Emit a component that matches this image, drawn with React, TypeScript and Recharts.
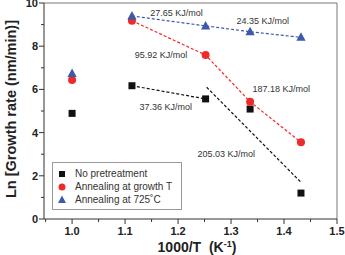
import React from 'react';
import { ScatterChart, Scatter, XAxis, YAxis, ReferenceLine } from 'recharts';

const noPretreatment = [
  { x: 1.0, y: 4.89 }, { x: 1.113, y: 6.17 }, { x: 1.252, y: 5.56 }, { x: 1.336, y: 5.09 }, { x: 1.432, y: 1.2 },
];
const annealGrowth = [
  { x: 1.0, y: 6.44 }, { x: 1.113, y: 9.18 }, { x: 1.252, y: 7.59 }, { x: 1.336, y: 5.43 }, { x: 1.432, y: 3.55 },
];
const anneal725 = [
  { x: 1.0, y: 6.74 }, { x: 1.113, y: 9.4 }, { x: 1.252, y: 8.94 }, { x: 1.336, y: 8.67 }, { x: 1.432, y: 8.41 },
];
const fitBlack1 = [{ x: 1.113, y: 6.17 }, { x: 1.252, y: 5.56 }];
const fitBlack2 = [{ x: 1.254, y: 6.1 }, { x: 1.432, y: 1.7 }];
const fitRed = [{ x: 1.113, y: 9.18 }, { x: 1.252, y: 7.59 }, { x: 1.336, y: 5.43 }, { x: 1.432, y: 3.55 }];
const fitBlue = [{ x: 1.113, y: 9.4 }, { x: 1.252, y: 8.94 }, { x: 1.336, y: 8.67 }, { x: 1.432, y: 8.41 }];
const annotations = [
  { x: 1.197, y: 9.52, text: '27.65 KJ/mol' },
  { x: 1.36, y: 9.18, text: '24.35 KJ/mol' },
  { x: 1.168, y: 7.59, text: '95.92 KJ/mol' },
  { x: 1.395, y: 6.0, text: '187.18 KJ/mol' },
  { x: 1.177, y: 5.17, text: '37.36 KJ/mol' },
  { x: 1.291, y: 3.0, text: '205.03 KJ/mol' },
];
const xTicks = [0.95, 1.0, 1.05, 1.1, 1.15, 1.2, 1.25, 1.3, 1.35, 1.4, 1.45, 1.5];
const xMajor = [1.0, 1.1, 1.2, 1.3, 1.4, 1.5];
const yTicks = [0, 1, 2, 3, 4, 5, 6, 7, 8, 9, 10];
const yMajor = [0, 2, 4, 6, 8, 10];
const legendItems = [
  { name: 'No pretreatment', shape: 'square', color: '#111111' },
  { name: 'Annealing at growth T', shape: 'circle', color: '#ee2a2a' },
  { name: 'Annealing at 725\u02daC', shape: 'triangle', color: '#3c5aaa' },
];

const BLACK = '#111111';
const RED = '#ee2a2a';
const BLUE = '#3c5aaa';
const FONT = '"Liberation Sans", Arial, sans-serif';

const Square = (p: any) => <rect x={p.cx - 3.5} y={p.cy - 3.5} width={7} height={7} fill={BLACK} />;
const Circle = (p: any) => <circle cx={p.cx} cy={p.cy} r={4} fill={RED} />;
const Tri = (p: any) => (
  <polygon points={`${p.cx},${p.cy - 5} ${p.cx - 4.6},${p.cy + 3.5} ${p.cx + 4.6},${p.cy + 3.5}`} fill={BLUE} />
);
const NoShape = () => <g />;
const AnnText = (p: any) => (
  <text x={p.cx} y={p.cy} dy={3} textAnchor="middle" fontSize={9} fill="#333" fontFamily={FONT}>
    {p.payload.text}
  </text>
);

const XTick = (p: any) => {
  const v = p.payload.value;
  const major = xMajor.some((m) => Math.abs(m - v) < 1e-6);
  return (
    <g>
      <line x1={p.x} x2={p.x} y1={p.y} y2={p.y + (major ? 5 : 3)} stroke="#333" />
      {major && (
        <text x={p.x} y={p.y + 16} textAnchor="middle" fontSize={11} fontWeight="bold" fill="#222" fontFamily={FONT}>
          {v.toFixed(1)}
        </text>
      )}
    </g>
  );
};
const YTick = (p: any) => {
  const v = p.payload.value;
  const major = yMajor.includes(v);
  return (
    <g>
      <line x1={p.x} x2={p.x - (major ? 5 : 3)} y1={p.y} y2={p.y} stroke="#333" />
      {major && (
        <text x={p.x - 6} y={p.y + 4} textAnchor="end" fontSize={11} fontWeight="bold" fill="#222" fontFamily={FONT}>
          {v}
        </text>
      )}
    </g>
  );
};

const LegendBox = () => (
  <div
    style={{
      position: 'absolute', left: 52, top: 162, width: 130, height: 48, border: '1px solid #999',
      background: '#fff', boxSizing: 'border-box', fontFamily: FONT, fontSize: 10, color: '#333', paddingTop: 4,
    }}
  >
    {legendItems.map((it) => (
      <div key={it.name} style={{ display: 'flex', alignItems: 'center', height: 13 }}>
        <svg width={22} height={12}>
          {it.shape === 'square' && <rect x={6} y={3} width={6} height={6} fill={it.color} />}
          {it.shape === 'circle' && <circle cx={9} cy={6} r={3.5} fill={it.color} />}
          {it.shape === 'triangle' && <polygon points="9,1.5 5,9 13,9" fill={it.color} />}
        </svg>
        <span>{it.name}</span>
      </div>
    ))}
  </div>
);

export default function App() {
  return (
    <div style={{ position: 'absolute', left: 0, top: 0, width: 345, height: 255, background: '#fff' }}>
      <ScatterChart width={345} height={255} margin={{ top: 3, right: 8, bottom: 0, left: 0 }}>
        <XAxis
          type="number" dataKey="x" domain={[0.947, 1.5]} ticks={xTicks} interval={0}
          tick={<XTick />} tickLine={false} tickSize={0} tickMargin={0} height={36}
          axisLine={{ stroke: '#333' }} allowDataOverflow
          label={{
            content: () => (
              <text x={197} y={252} textAnchor="middle" fontSize={14} fontWeight="bold" fill="#222" fontFamily={FONT}>
                1000/T{'\u00a0\u00a0'}(K<tspan dy={-5} fontSize={9}>-1</tspan><tspan dy={5}>)</tspan>
              </text>
            ),
          }}
        />
        <YAxis
          type="number" dataKey="y" domain={[0, 10]} ticks={yTicks} interval={0}
          tick={<YTick />} tickLine={false} tickSize={0} tickMargin={0} width={44}
          axisLine={{ stroke: '#333' }} allowDataOverflow
          label={{
            content: () => (
              <text x={16} y={109} transform="rotate(-90 16 109)" textAnchor="middle" fontSize={14.5} fontWeight="bold" fill="#222" fontFamily={FONT}>
                Ln [Growth rate (nm/min)]
              </text>
            ),
          }}
        />
        <ReferenceLine y={10} stroke="#777" />
        <ReferenceLine x={1.5} stroke="#777" />
        <Scatter data={fitBlue} line={{ stroke: BLUE, strokeDasharray: '3 2', strokeWidth: 1.2 }} shape={<NoShape />} isAnimationActive={false} />
        <Scatter data={fitRed} line={{ stroke: RED, strokeDasharray: '3 2', strokeWidth: 1.2 }} shape={<NoShape />} isAnimationActive={false} />
        <Scatter data={fitBlack1} line={{ stroke: BLACK, strokeDasharray: '3 2', strokeWidth: 1.2 }} shape={<NoShape />} isAnimationActive={false} />
        <Scatter data={fitBlack2} line={{ stroke: BLACK, strokeDasharray: '3 2', strokeWidth: 1.2 }} shape={<NoShape />} isAnimationActive={false} />
        <Scatter data={noPretreatment} shape={<Square />} isAnimationActive={false} />
        <Scatter data={annealGrowth} shape={<Circle />} isAnimationActive={false} />
        <Scatter data={anneal725} shape={<Tri />} isAnimationActive={false} />
        <Scatter data={annotations} shape={<AnnText />} isAnimationActive={false} />
      </ScatterChart>
      <LegendBox />
    </div>
  );
}
